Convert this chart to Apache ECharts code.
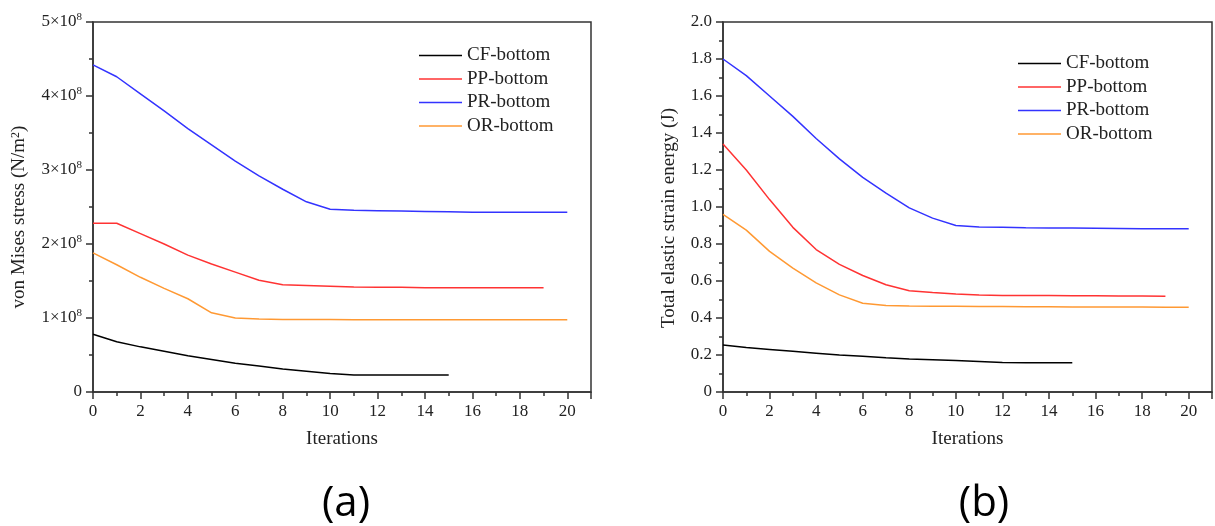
<!DOCTYPE html>
<html>
<head>
<meta charset="utf-8">
<script src="https://cdn.jsdelivr.net/npm/echarts@6/dist/echarts.min.js"></script>
<style>
  html, body { margin: 0; padding: 0; background: #fff; }
  #main { width: 1215px; height: 526px; }
</style>
</head>
<body>
<div id="main"></div>
<script>
// series names, same for both panels
const seriesNames = ['CF-bottom', 'PP-bottom', 'PR-bottom', 'OR-bottom']
const seriesColors = ['#000000', '#ff3333', '#3333ff', '#ff9933']

// (a) von Mises stress, N/m2, one value per iteration (starting at 0)
const stressCF = [0.78e8, 0.68e8, 0.61e8, 0.55e8, 0.49e8, 0.44e8, 0.39e8, 0.35e8, 0.31e8, 0.28e8, 0.25e8, 0.23e8, 0.23e8, 0.23e8, 0.23e8, 0.23e8]
const stressPP = [2.28e8, 2.28e8, 2.14e8, 2.00e8, 1.85e8, 1.73e8, 1.62e8, 1.51e8, 1.45e8, 1.44e8, 1.43e8, 1.42e8, 1.415e8, 1.415e8, 1.41e8, 1.41e8, 1.41e8, 1.41e8, 1.41e8, 1.41e8]
const stressPR = [4.42e8, 4.26e8, 4.03e8, 3.80e8, 3.56e8, 3.34e8, 3.12e8, 2.92e8, 2.74e8, 2.57e8, 2.47e8, 2.455e8, 2.45e8, 2.445e8, 2.44e8, 2.435e8, 2.43e8, 2.43e8, 2.43e8, 2.43e8, 2.43e8]
const stressOR = [1.88e8, 1.72e8, 1.55e8, 1.40e8, 1.26e8, 1.07e8, 1.00e8, 0.985e8, 0.98e8, 0.98e8, 0.98e8, 0.978e8, 0.978e8, 0.977e8, 0.977e8, 0.976e8, 0.976e8, 0.975e8, 0.975e8, 0.975e8, 0.975e8]

// (b) total elastic strain energy, J
const energyCF = [0.254, 0.24, 0.23, 0.22, 0.21, 0.20, 0.193, 0.185, 0.178, 0.174, 0.170, 0.165, 0.159, 0.158, 0.158, 0.158]
const energyPP = [1.34, 1.20, 1.04, 0.89, 0.77, 0.69, 0.63, 0.58, 0.547, 0.538, 0.530, 0.524, 0.522, 0.521, 0.521, 0.520, 0.520, 0.519, 0.519, 0.518]
const energyPR = [1.80, 1.71, 1.60, 1.49, 1.37, 1.26, 1.16, 1.075, 0.995, 0.94, 0.90, 0.892, 0.89, 0.888, 0.887, 0.886, 0.885, 0.884, 0.883, 0.882, 0.882]
const energyOR = [0.96, 0.875, 0.76, 0.67, 0.59, 0.525, 0.48, 0.467, 0.465, 0.464, 0.463, 0.462, 0.462, 0.461, 0.461, 0.460, 0.460, 0.459, 0.459, 0.458, 0.458]

const stressSets = [stressCF, stressPP, stressPR, stressOR]
const energySets = [energyCF, energyPP, energyPR, energyOR]

const serif = 'Liberation Serif'
const ink = '#222'

function toPoints(arr) {
  return arr.map((v, i) => [i, v])
}

function xAxisFor(gridIndex) {
  return {
    type: 'value', gridIndex: gridIndex,
    min: 0, max: 21, interval: 2,
    name: 'Iterations', nameLocation: 'middle', nameGap: 38,
    nameTextStyle: { fontFamily: serif, fontSize: 19, color: ink },
    axisLine: { show: true, onZero: false, lineStyle: { color: '#333', width: 1.5 } },
    axisTick: { show: true, inside: false, length: 7, lineStyle: { color: '#333', width: 1.5 } },
    minorTick: { show: true, splitNumber: 2, length: 4, lineStyle: { color: '#333', width: 1.5 } },
    splitLine: { show: false },
    axisLabel: {
      fontFamily: serif, fontSize: 17, color: ink, margin: 11,
      formatter: v => (v > 20 ? '' : String(v))
    }
  }
}

const sup = {
  b: { fontFamily: serif, fontSize: 17, color: ink, lineHeight: 20 },
  s: { fontFamily: serif, fontSize: 11, color: ink, verticalAlign: 'top', lineHeight: 20 }
}

var myChart = echarts.init(document.getElementById('main'))

var series = []
seriesNames.forEach((name, i) => {
  series.push({
    name: name, type: 'line', xAxisIndex: 0, yAxisIndex: 0,
    data: toPoints(stressSets[i]), symbol: 'none', smooth: false,
    lineStyle: { color: seriesColors[i], width: 1.5 }, itemStyle: { color: seriesColors[i] }
  })
})
seriesNames.forEach((name, i) => {
  series.push({
    name: name, type: 'line', xAxisIndex: 1, yAxisIndex: 1,
    data: toPoints(energySets[i]), symbol: 'none', smooth: false,
    lineStyle: { color: seriesColors[i], width: 1.5 }, itemStyle: { color: seriesColors[i] }
  })
})

var legendBase = {
  orient: 'vertical', icon: 'rect', itemWidth: 43, itemHeight: 1.5, itemGap: 4.5, padding: 0,
  data: seriesNames,
  textStyle: { fontFamily: serif, fontSize: 19, color: ink, lineHeight: 19 }
}

var option = {
  animation: false,
  backgroundColor: '#fff',
  grid: [
    { left: 93, top: 22, width: 498, height: 370, show: true, borderColor: '#333', borderWidth: 1.5 },
    { left: 723, top: 22, width: 498, height: 370, show: true, borderColor: '#333', borderWidth: 1.5 }
  ],
  title: [
    { text: '(a)', left: 341, top: 478, textAlign: 'center',
      textStyle: { fontFamily: 'Open Sans', fontSize: 42, fontWeight: 'normal', color: '#000' } },
    { text: '(b)', left: 979, top: 478, textAlign: 'center',
      textStyle: { fontFamily: 'Open Sans', fontSize: 42, fontWeight: 'normal', color: '#000' } }
  ],
  legend: [
    Object.assign({ left: 419, top: 46 }, legendBase),
    Object.assign({ left: 1018, top: 54 }, legendBase)
  ],
  xAxis: [xAxisFor(0), xAxisFor(1)],
  yAxis: [
    {
      type: 'value', gridIndex: 0, min: 0, max: 5e8, interval: 1e8,
      name: 'von Mises stress (N/m{s|2})', nameLocation: 'middle', nameGap: 64,
      nameTextStyle: { fontFamily: serif, fontSize: 19, color: ink, padding: [0, 20, 0, 0],
        rich: { s: { fontFamily: serif, fontSize: 12, color: ink, verticalAlign: 'top' } } },
      axisLine: { show: true, lineStyle: { color: '#333', width: 1.5 } },
      axisTick: { show: true, inside: false, length: 7, lineStyle: { color: '#333', width: 1.5 } },
      minorTick: { show: true, splitNumber: 2, length: 4, lineStyle: { color: '#333', width: 1.5 } },
      splitLine: { show: false },
      axisLabel: {
        margin: 11, fontFamily: serif, fontSize: 17, color: ink, rich: sup,
        formatter: v => (v === 0 ? '{b|0}' : '{b|' + Math.round(v / 1e8) + '×10}{s|8}')
      }
    },
    {
      type: 'value', gridIndex: 1, min: 0, max: 2, interval: 0.2,
      name: 'Total elastic strain energy (J)', nameLocation: 'middle', nameGap: 44,
      nameTextStyle: { fontFamily: serif, fontSize: 19, color: ink, padding: [0, 22, 0, 0] },
      axisLine: { show: true, lineStyle: { color: '#333', width: 1.5 } },
      axisTick: { show: true, inside: false, length: 7, lineStyle: { color: '#333', width: 1.5 } },
      minorTick: { show: true, splitNumber: 2, length: 4, lineStyle: { color: '#333', width: 1.5 } },
      splitLine: { show: false },
      axisLabel: {
        margin: 11, fontFamily: serif, fontSize: 17, color: ink,
        formatter: v => (v === 0 ? '0' : v.toFixed(1))
      }
    }
  ],
  series: series
}

myChart.setOption(option)
</script>
</body>
</html>
